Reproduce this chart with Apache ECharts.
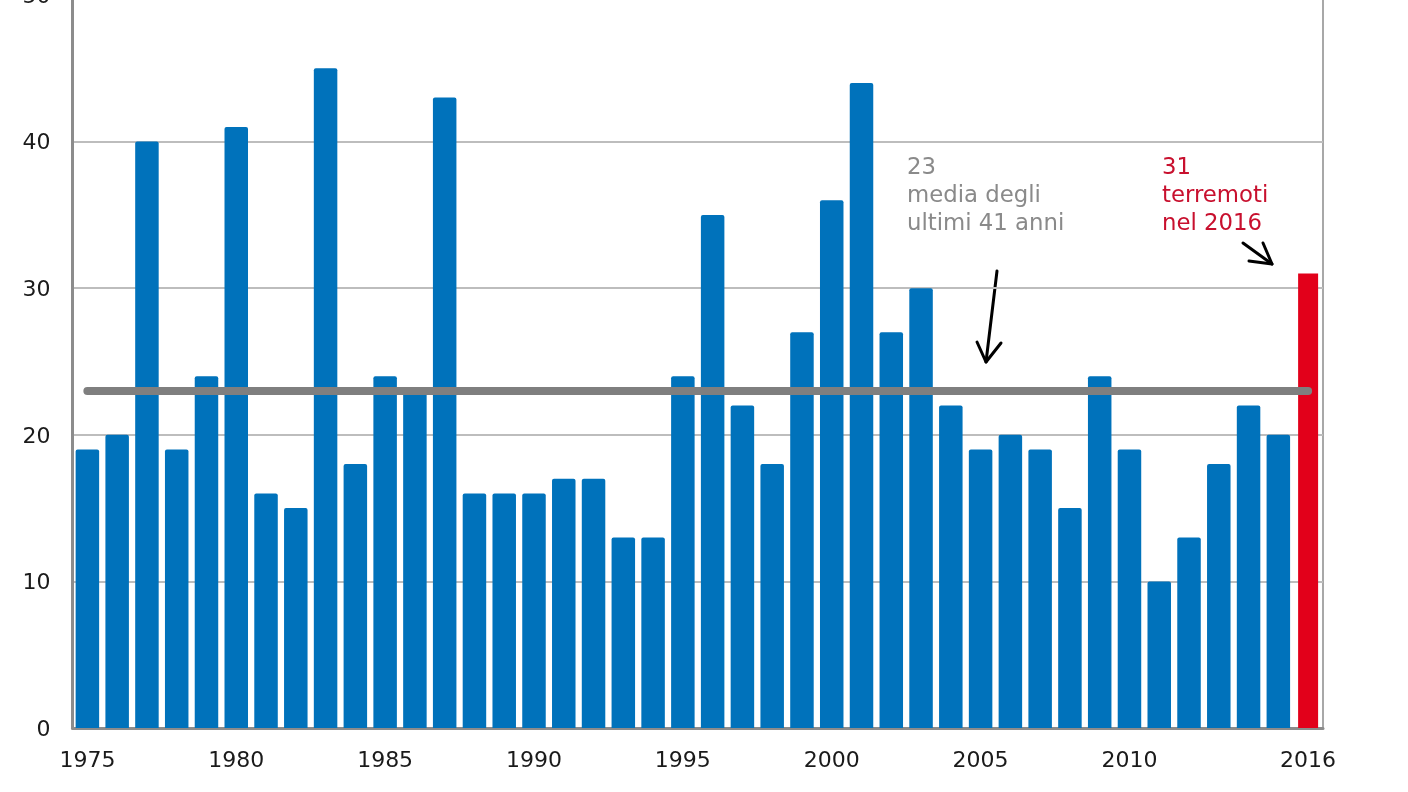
<!DOCTYPE html>
<html>
<head>
<meta charset="utf-8">
<style>
html,body{margin:0;padding:0;background:#fff;overflow:hidden}
#chart{width:1408px;height:792px}
</style>
<script src="https://cdn.jsdelivr.net/npm/echarts@6/dist/echarts.min.js"></script>
</head>
<body>
<div id="chart"></div>
<script>
var years = ['1975','1976','1977','1978','1979','1980','1981','1982','1983','1984','1985','1986','1987','1988',
    '1989','1990','1991','1992','1993','1994','1995','1996','1997','1998','1999','2000','2001','2002',
    '2003','2004','2005','2006','2007','2008','2009','2010','2011','2012','2013','2014','2015','2016'];
var quakes = [19,20,40,19,24,41,16,15,45,18,24,23,43,16,16,16,17,17,13,13,24,35,22,18,27,36,44,27,30,22,19,20,19,15,24,19,10,13,18,22,20,null];
var quakes2016 = [null,null,null,null,null,null,null,null,null,null,null,null,null,null,null,null,null,null,null,null,null,
    null,null,null,null,null,null,null,null,null,null,null,null,null,null,null,null,null,null,null,null,31];
var mean = 23;
var yearLabels = ['1975','1980','1985','1990','1995','2000','2005','2010','2016'];
var meanText = '23\nmedia degli\nultimi 41 anni';
var redText = '31\nterremoti\nnel 2016';

var font = '"DejaVu Sans", Verdana, sans-serif';
var chart = echarts.init(document.getElementById('chart'));

function arrow(points){
    return {
        type:'polyline',
        silent:true,
        shape:{points:points},
        style:{stroke:'#000',lineWidth:3,fill:null,lineCap:'round',lineJoin:'round'}
    };
}
function note(x,text,color){
    return {
        type:'text',
        silent:true,
        x:x,
        y:154.5,
        style:{text:text,fill:color,font:'22.8px '+font,lineHeight:28}
    };
}

chart.setOption({
    animation:false,
    backgroundColor:'#fff',
    grid:{left:72.5,right:85,top:-5,bottom:64,outerBoundsMode:'none',show:true,borderColor:'#a8a8a8',borderWidth:2,backgroundColor:'transparent'},
    xAxis:[
        {
            type:'category',
            data:years,
            axisLine:{lineStyle:{color:'#8c8c8c',width:3}},
            axisTick:{show:false},
            axisLabel:{
                color:'#1a1a1a',
                fontFamily:font,
                fontSize:22,
                margin:22,
                hideOverlap:false,
                interval:function(i,v){return yearLabels.indexOf(v) >= 0;}
            }
        },
        {type:'category',data:years,show:false}
    ],
    yAxis:{
        type:'value',
        min:0,
        max:50,
        interval:10,
        axisLine:{show:true,lineStyle:{color:'#8c8c8c',width:3}},
        axisTick:{show:false},
        axisLabel:{
            margin:22,
            formatter:'{v|{value}}',
            rich:{v:{color:'#1a1a1a',fontFamily:font,fontSize:22,padding:[4,0,0,0]}}
        },
        splitLine:{lineStyle:{color:'#bdbdbd',width:2}}
    },
    series:[
        {
            name:'Terremoti',
            type:'bar',
            data:quakes,
            barWidth:23.5,
            itemStyle:{color:'#0072bb',borderRadius:[2,2,0,0]},
            markLine:{
                silent:true,
                symbol:'none',
                z:5,
                label:{show:false},
                lineStyle:{color:'#7f7f7f',width:8,type:'solid',cap:'round'},
                data:[[{xAxis:'1975',yAxis:mean},{xAxis:'2016',yAxis:mean}]]
            }
        },
        {
            name:'2016',
            type:'bar',
            xAxisIndex:1,
            data:quakes2016,
            barWidth:20,
            itemStyle:{color:'#e2001a'}
        }
    ],
    graphic:[
        note(907,meanText,'#8a8a8a'),
        note(1162,redText,'#c8102e'),
        arrow([[997,271],[986,362]]),
        arrow([[977,342],[986,362],[1001,343]]),
        arrow([[1243,243],[1272,264]]),
        arrow([[1263,243],[1272,264],[1249,261]])
    ]
});
</script>
</body>
</html>
